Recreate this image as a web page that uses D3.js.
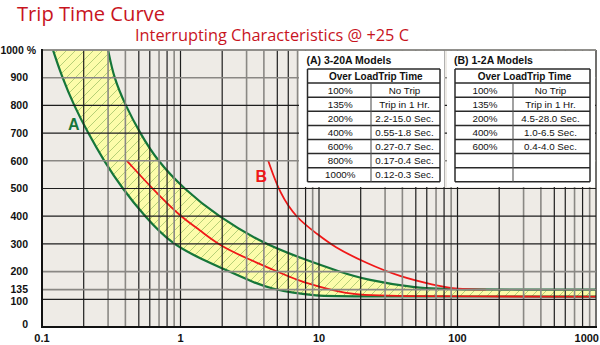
<!DOCTYPE html>
<html><head><meta charset="utf-8">
<script src="https://cdn.jsdelivr.net/npm/d3@7"></script>
<style>body{margin:0;background:#fff}svg{display:block}</style>
</head><body>
<svg id="c" width="600" height="345"></svg>
<script>
// ---- data ----
const yTicks = [0, 100, 135, 200, 300, 400, 500, 600, 700, 800, 900, 1000];
const yDarkTicks = [100, 300, 400, 500, 700, 800];
const xLabels = [0.1, 1, 10, 100, 1000];
const xDarkMult = [2, 5, 6, 8, 10];

// Curve A, minimum trip time (left edge of band)
const aMinTime = [0.12, 0.14, 0.17, 0.215, 0.28, 0.38, 0.55, 0.86, 1.38, 2.3, 3.4, 4.6, 6.5, 9.5, 14, 1000];
const aMinLoad = [1000, 900, 800, 700, 600, 500, 400, 300, 248, 198, 160, 138, 123, 113, 110, 110];
// Curve A, maximum trip time (right edge of band)
const aMaxTime = [0.30, 0.33, 0.40, 0.51, 0.68, 1.05, 1.85, 4.0, 7.3, 14, 22, 50, 100, 1000];
const aMaxLoad = [1000, 900, 800, 700, 600, 500, 400, 300, 250, 200, 170, 140, 135, 135];
// Curve A, nominal (red)
const aNomTime = [0.41, 0.64, 1.0, 1.38, 1.93, 3.2, 4.4, 7.3, 11, 16.7, 26, 1000];
const aNomLoad = [600, 494, 398, 350, 292, 242, 212, 164, 140, 119, 110, 110];
// Curve B (red)
const bTime = [4.3, 5.2, 6.9, 9.6, 12.7, 22, 38.5, 67, 99, 160];
const bLoad = [600, 482, 392, 338, 290, 230, 181, 152, 136, 135];

// Tables
const tableATitle = "(A) 3-20A Models";
const tableALoad = ["100%", "135%", "200%", "400%", "600%", "800%", "1000%"];
const tableATime = ["No Trip", "Trip in 1 Hr.", "2.2-15.0 Sec.", "0.55-1.8 Sec.", "0.27-0.7 Sec.", "0.17-0.4 Sec.", "0.12-0.3 Sec."];
const tableBTitle = "(B) 1-2A Models";
const tableBLoad = ["100%", "135%", "200%", "400%", "600%"];
const tableBTime = ["No Trip", "Trip in 1 Hr.", "4.5-28.0 Sec.", "1.0-6.5 Sec.", "0.4-4.0 Sec."];
const tableHeader = "Over LoadTrip Time";

// ---- drawing ----
const svg = d3.select("#c");
const L = 42, R = 596, T = 50, B = 327;
const x = d3.scaleLog().domain([0.1, 1000]).range([L, R]);
const y = d3.scaleLinear().domain([0, 1000]).range([B, T]);
const font = "'Liberation Sans', Arial, sans-serif";

const defs = svg.append("defs");
const pat = defs.append("pattern").attr("id", "hatch").attr("patternUnits", "userSpaceOnUse")
  .attr("width", 9).attr("height", 9);
pat.append("rect").attr("width", 9).attr("height", 9).attr("fill", "#fcfcaa");
pat.append("path").attr("d", "M0,9L9,0M-2,2L2,-2M7,11L11,7")
  .attr("stroke", "#a3c46a").attr("stroke-width", 0.8);
defs.append("clipPath").attr("id", "plotclip").append("rect")
  .attr("x", L).attr("y", T).attr("width", R - L).attr("height", B - T);

// title
svg.append("text").attr("x", 17).attr("y", 21).text("Trip Time Curve")
  .attr("font-family", "'Open Sans', sans-serif").attr("font-size", 20)
  .attr("fill", "#c8141e").attr("textLength", 148).attr("lengthAdjust", "spacingAndGlyphs");
svg.append("text").attr("x", 135).attr("y", 40.5).text("Interrupting Characteristics @ +25 C")
  .attr("font-family", "'Open Sans', sans-serif").attr("font-size", 15.5)
  .attr("fill", "#c8141e").attr("textLength", 274).attr("lengthAdjust", "spacingAndGlyphs");

// plot background
svg.append("rect").attr("x", L).attr("y", T).attr("width", R - L + 1).attr("height", B - T)
  .attr("fill", "#eeebe6");

const plot = svg.append("g").attr("clip-path", "url(#plotclip)");

// band
const line = d3.line().x(d => x(d[0])).y(d => y(d[1])).curve(d3.curveBasis);
const lowerPts = aMinTime.map((t, i) => [t, aMinLoad[i]]);
const upperPts = aMaxTime.map((t, i) => [t, aMaxLoad[i]]);
const bandPath = line(lowerPts) + line(upperPts.slice().reverse()).replace(/^M/, "L") + "Z";
plot.append("path").attr("d", bandPath).attr("fill", "url(#hatch)");

// grid
const vTicks = [];
for (let dec = 0.1; dec < 1000; dec *= 10) {
  for (let m = 2; m <= 10; m++) vTicks.push({v: +(dec * m).toPrecision(3), dark: xDarkMult.includes(m)});
}
svg.append("g").selectAll("line").data(vTicks).join("line")
  .attr("x1", d => x(d.v)).attr("x2", d => x(d.v)).attr("y1", T).attr("y2", B)
  .attr("stroke", d => d.dark ? "#1e1e1e" : "#8a8884").attr("stroke-width", d => d.dark ? 1.2 : 1.6);
svg.append("g").selectAll("line").data(yTicks.filter(v => v > 0)).join("line")
  .attr("x1", L).attr("x2", R).attr("y1", d => y(d)).attr("y2", d => y(d))
  .attr("stroke", d => yDarkTicks.includes(d) ? "#1e1e1e" : "#8a8884")
  .attr("stroke-width", d => yDarkTicks.includes(d) ? 1.2 : 1.6);

// tables
function drawTable(bx0, bx1, x0, x1, xd, title, loads, times) {
  svg.append("rect").attr("x", bx0).attr("y", T + 1).attr("width", bx1 - bx0).attr("height", 136)
    .attr("fill", "#fff");
  const g = svg.append("g").attr("font-family", font).attr("fill", "#111");
  g.append("text").attr("x", x0 - 1).attr("y", 64).text(title)
    .attr("font-weight", "bold").attr("font-size", 10.5);
  const top = 69, rh = 14.1, n = 8;
  for (let i = 0; i <= n; i++) {
    g.append("line").attr("x1", x0).attr("x2", x1).attr("y1", top + i * rh).attr("y2", top + i * rh)
      .attr("stroke", "#2a2a2a").attr("stroke-width", 1.5);
  }
  [x0, x1].forEach(xx => g.append("line").attr("x1", xx).attr("x2", xx).attr("y1", top).attr("y2", top + n * rh)
    .attr("stroke", "#2a2a2a").attr("stroke-width", 1.5));
  g.append("line").attr("x1", xd).attr("x2", xd).attr("y1", top + rh).attr("y2", top + n * rh)
    .attr("stroke", "#555").attr("stroke-width", 1.1);
  g.append("text").attr("x", (x0 + x1) / 2 + 2).attr("y", top + rh / 2 + 3.6).text(tableHeader)
    .attr("text-anchor", "middle").attr("font-weight", "bold").attr("font-size", 10);
  loads.forEach((s, i) => g.append("text").attr("x", (x0 + xd) / 2 + 1).attr("y", top + (i + 1.5) * rh + 3.6)
    .text(s).attr("text-anchor", "middle").attr("font-size", 9.8));
  times.forEach((s, i) => g.append("text").attr("x", (xd + x1) / 2 - 1).attr("y", top + (i + 1.5) * rh + 3.6)
    .text(s).attr("text-anchor", "middle").attr("font-size", 9.8));
}
drawTable(299, 444.5, 307.5, 440, 371, tableATitle, tableALoad, tableATime);
drawTable(447, 595, 455, 590, 513, tableBTitle, tableBLoad, tableBTime);

// top line
svg.append("line").attr("x1", L).attr("x2", R).attr("y1", T).attr("y2", T)
  .attr("stroke", "#8a8884").attr("stroke-width", 1.6);

// curves
plot.append("path").attr("d", line(lowerPts)).attr("fill", "none").attr("stroke", "#16763a").attr("stroke-width", 2.2);
plot.append("path").attr("d", line(upperPts)).attr("fill", "none").attr("stroke", "#16763a").attr("stroke-width", 2.2);
plot.append("path").attr("d", line(aNomTime.map((t, i) => [t, aNomLoad[i]])))
  .attr("fill", "none").attr("stroke", "#f01818").attr("stroke-width", 1.8);
plot.append("path").attr("d", line(bTime.map((t, i) => [t, bLoad[i]])))
  .attr("fill", "none").attr("stroke", "#f01818").attr("stroke-width", 1.8);

// curve labels
svg.append("text").attr("x", 68).attr("y", 130).text("A").attr("font-family", font)
  .attr("font-weight", "bold").attr("font-size", 16).attr("fill", "#16763a");
svg.append("text").attr("x", 255.5).attr("y", 181.5).text("B").attr("font-family", font)
  .attr("font-weight", "bold").attr("font-size", 16).attr("fill", "#f01818");

// axes lines
svg.append("line").attr("x1", L).attr("x2", L).attr("y1", T - 1).attr("y2", B + 1).attr("stroke", "#111").attr("stroke-width", 2);
svg.append("line").attr("x1", L - 1).attr("x2", R + 1).attr("y1", B).attr("y2", B).attr("stroke", "#111").attr("stroke-width", 2);

// y labels
const yOff = {0: -3, 100: 1.8, 135: -0.6};
svg.append("g").attr("font-family", font).attr("font-weight", "bold").attr("font-size", 10.5).attr("fill", "#111")
  .selectAll("text").data(yTicks).join("text")
  .attr("x", d => d === 1000 ? 36 : 28).attr("y", d => y(d) + (yOff[d] || 0)).attr("dy", "0.36em")
  .attr("text-anchor", "end").text(d => d === 1000 ? "1000 %" : d);

// x labels
svg.append("g").attr("font-family", font).attr("font-weight", "bold").attr("font-size", 11).attr("fill", "#111")
  .selectAll("text").data(xLabels).join("text")
  .attr("x", d => d === 1000 ? 599 : x(d)).attr("y", 342)
  .attr("text-anchor", d => d === 1000 ? "end" : "middle").text(d => d);
</script>
</body></html>
